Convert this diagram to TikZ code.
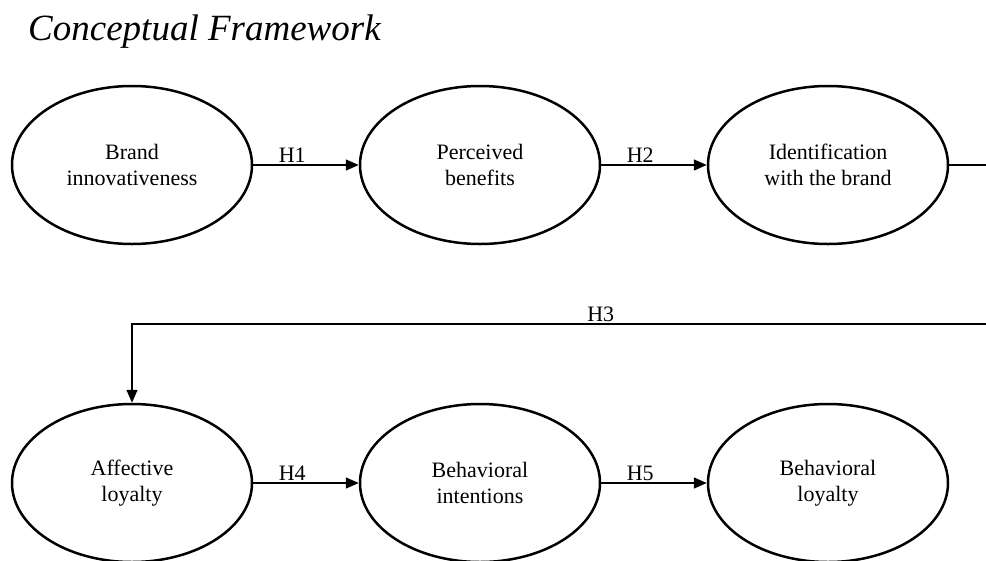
\documentclass[tikz,border=0pt]{standalone}
\usepackage{fontspec}
\setmainfont{Liberation Serif}
\usetikzlibrary{shapes.geometric,arrows.meta}
\tikzset{
  construct/.style={draw,ellipse,line width=2.5pt,minimum width=240pt,minimum height=158pt,
    inner sep=0pt,align=center,font=\fontsize{22}{26}\selectfont},
  hyp/.style={font=\fontsize{22}{26}\selectfont,inner sep=2pt},
  path/.style={line width=1.5pt,-{Triangle[length=13pt,width=11pt]}}
}
\begin{document}
\begin{tikzpicture}[x=1pt,y=-1pt]
      \useasboundingbox (0,0) rectangle (986,560);
      \clip (0,0) rectangle (986,560);
      \node[anchor=base west,inner sep=0pt,font=\fontsize{37}{40}\selectfont\itshape]
        (title) at (28,40) {Conceptual Framework};
      \draw
        (132,165) node[construct] (1){Brand\\innovativeness}
        (480,165) node[construct] (2){Perceived\\benefits}
        (828,165) node[construct] (3){Identification\\with the brand}
        (132,483) node[construct] (4){Affective\\loyalty}
        (480,483) node[construct] (5){Behavioral\\intentions}
        (828,483) node[construct] (6){Behavioral\\loyalty};
      \coordinate (r) at (1000,165);
      \coordinate (l) at (132,324);
      \begin{scope}[path]
        \draw (1) to node[hyp,above,pos=0.37] {H1} (2);
        \draw (2) to node[hyp,above,pos=0.37] {H2} (3);
        \draw (3) -- (r) |- node[hyp,above,pos=0.73] {H3} (l) -- (4);
        \draw (4) to node[hyp,above,pos=0.37] {H4} (5);
        \draw (5) to node[hyp,above,pos=0.37] {H5} (6);
      \end{scope}
    \end{tikzpicture}
\end{document}
